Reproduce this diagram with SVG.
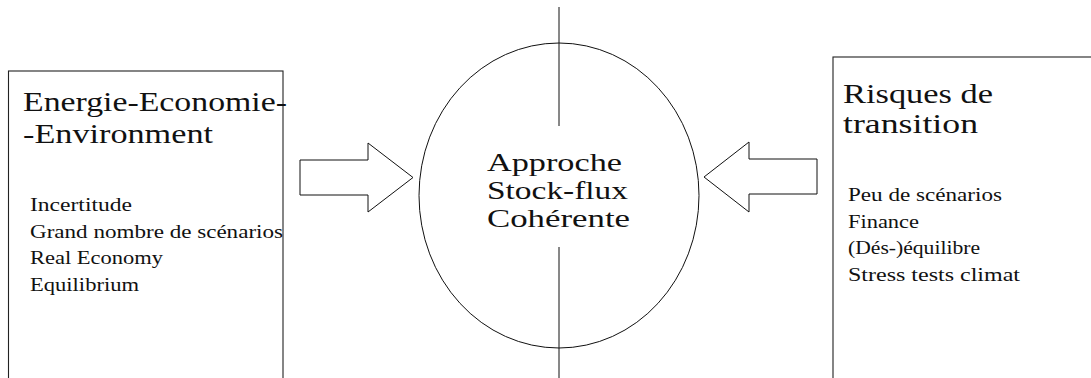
<svg xmlns="http://www.w3.org/2000/svg" width="1091" height="378" viewBox="0 0 1091 378">
<style>
.box{fill:none;stroke:#222;stroke-width:1.1}
.shape{fill:none;stroke:#111;stroke-width:1}
text{font-family:"Liberation Serif","Times New Roman",Times,"Noto Serif","DejaVu Serif",serif;fill:#111}
.title{font-size:28px}
.center{font-size:26px}
.item{font-size:19px}
</style>
<rect width="1091" height="378" fill="#fff"/>
<g id="node-eee">
<rect class="box" x="8.5" y="71" width="274.5" height="400"/>
<text class="title" x="23" y="111" textLength="264" lengthAdjust="spacingAndGlyphs">Energie-Economie-</text>
<text class="title" x="23" y="143" textLength="190" lengthAdjust="spacingAndGlyphs">-Environment</text>
<text class="item" x="30" y="211" textLength="102" lengthAdjust="spacingAndGlyphs">Incertitude</text>
<text class="item" x="30" y="238" textLength="253" lengthAdjust="spacingAndGlyphs">Grand nombre de scénarios</text>
<text class="item" x="30" y="264" textLength="133" lengthAdjust="spacingAndGlyphs">Real Economy</text>
<text class="item" x="30" y="291" textLength="109" lengthAdjust="spacingAndGlyphs">Equilibrium</text>
</g>
<g id="node-sfc">
<ellipse class="shape" cx="559" cy="195.5" rx="140" ry="152.5"/>
<line class="shape" x1="559" y1="7" x2="559" y2="126"/>
<line class="shape" x1="559" y1="247" x2="559" y2="378"/>
<text class="center" x="487" y="171" textLength="135" lengthAdjust="spacingAndGlyphs">Approche</text>
<text class="center" x="487" y="199" textLength="141" lengthAdjust="spacingAndGlyphs">Stock-flux</text>
<text class="center" x="487" y="227" textLength="143" lengthAdjust="spacingAndGlyphs">Cohérente</text>
</g>
<g id="node-risques">
<rect class="box" x="833" y="57" width="300" height="400"/>
<text class="title" x="843" y="103" textLength="150" lengthAdjust="spacingAndGlyphs">Risques de</text>
<text class="title" x="843" y="133" textLength="135" lengthAdjust="spacingAndGlyphs">transition</text>
<text class="item" x="848" y="201" textLength="154" lengthAdjust="spacingAndGlyphs">Peu de scénarios</text>
<text class="item" x="848" y="228" textLength="71" lengthAdjust="spacingAndGlyphs">Finance</text>
<text class="item" x="848" y="254" textLength="132" lengthAdjust="spacingAndGlyphs">(Dés-)équilibre</text>
<text class="item" x="848" y="281" textLength="172" lengthAdjust="spacingAndGlyphs">Stress tests climat</text>
</g>
<g id="connectors">
<polygon class="shape" points="300,160 368,160 368,143 413,177.5 368,212 368,195 300,195"/>
<polygon class="shape" points="817,159 749,159 749,142 704,177 749,212 749,194 817,194"/>
</g>
</svg>
